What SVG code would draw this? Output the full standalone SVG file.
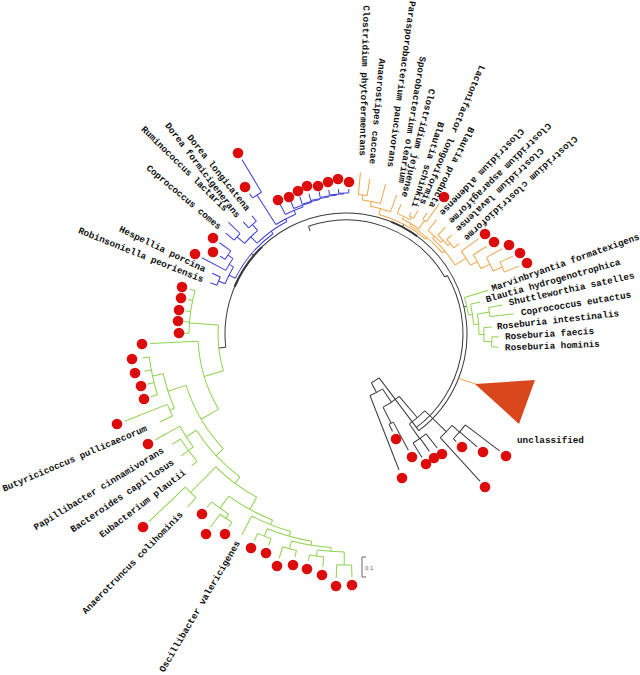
<svg xmlns="http://www.w3.org/2000/svg" width="640" height="675" viewBox="0 0 640 675">
<style>
.t{font-family:"Liberation Mono","Courier New",monospace;font-weight:bold;font-size:9.3px;fill:#111;dominant-baseline:central}
.e{text-anchor:end}
.k line,.k circle{stroke:#3a3a3a;fill:none;stroke-width:1}
.b line,.b circle{stroke:#3d3dd8;fill:none;stroke-width:1}
.o line,.o circle{stroke:#f0a54d;fill:none;stroke-width:1}
.g line,.g circle{stroke:#8fd24f;fill:none;stroke-width:1}
.d circle{fill:#dd0c0c}
</style>
<rect width="640" height="675" fill="#fff"/>
<g id="connectors" transform="translate(346,334)">
<g class="k">
<circle r="121" pathLength="360" stroke-dasharray="239.3 400" transform="rotate(173.7)"/>
<circle r="117" pathLength="360" stroke-dasharray="83 400" transform="rotate(330)"/>
<circle r="114" pathLength="360" stroke-dasharray="79.2 400" transform="rotate(250.8)"/>
<circle r="121" pathLength="360" stroke-dasharray="23 400" transform="rotate(203)" style="stroke-width:2.2"/>
<circle r="121" pathLength="360" stroke-dasharray="14 400" transform="rotate(292)" style="stroke-width:2"/>
<line x1="109" x2="114" transform="rotate(250.8)"/>
<line x1="114" x2="117" transform="rotate(330)"/>
<line x1="55" x2="121" transform="rotate(53)"/>
<line x1="121" x2="128" transform="rotate(173.7)"/>
<line x1="121" x2="124" transform="rotate(220.3)"/>
<line x1="121" x2="124" transform="rotate(297.8)"/>
<line x1="121" x2="124" transform="rotate(347.05)"/>
<circle r="55" pathLength="360" stroke-dasharray="9.5 400" transform="rotate(53)"/>
<line x1="55" x2="66" transform="rotate(62.5)"/>
<circle r="66" pathLength="360" stroke-dasharray="12.35 400" transform="rotate(56.35)"/>
<line x1="66" x2="146" transform="rotate(68.7)"/>
<line x1="66" x2="82" transform="rotate(56.35)"/>
<circle r="82" pathLength="360" stroke-dasharray="13.6 400" transform="rotate(49.55)"/>
<line x1="82" x2="100" transform="rotate(63.15)"/>
<line x1="82" x2="110" transform="rotate(49.55)"/>
<circle r="100" pathLength="360" stroke-dasharray="2.7 400" transform="rotate(61.8)"/>
<line x1="100" x2="108" transform="rotate(64.5)"/>
<line x1="100" x2="132" transform="rotate(61.8)"/>
<circle r="110" pathLength="360" stroke-dasharray="10.6 400" transform="rotate(44.25)"/>
<line x1="110" x2="128" transform="rotate(54.85)"/>
<line x1="110" x2="140" transform="rotate(44.25)"/>
<circle r="128" pathLength="360" stroke-dasharray="7.1 400" transform="rotate(51.3)"/>
<line x1="128" x2="145" transform="rotate(58.4)"/>
<line x1="128" x2="144" transform="rotate(54.6)"/>
<line x1="128" x2="146" transform="rotate(51.3)"/>
<circle r="140" pathLength="360" stroke-dasharray="6.9 400" transform="rotate(40.8)"/>
<line x1="140" x2="199" transform="rotate(47.7)"/>
<line x1="140" x2="150" transform="rotate(40.8)"/>
<circle r="150" pathLength="360" stroke-dasharray="7 400" transform="rotate(37.3)"/>
<line x1="150" x2="154" transform="rotate(44.3)"/>
<line x1="150" x2="173" transform="rotate(40.7)"/>
<line x1="150" x2="193" transform="rotate(37.3)"/>
</g>
<g class="b">
<circle r="138" pathLength="360" stroke-dasharray="3.7 400" transform="rotate(200.7)"/>
<line x1="138" x2="145" transform="rotate(200.7)"/><line x1="138" x2="147" transform="rotate(204.4)"/>
<circle r="142" pathLength="360" stroke-dasharray="4.1 400" transform="rotate(211.7)"/>
<line x1="142" x2="148" transform="rotate(211.7)"/><line x1="142" x2="156" transform="rotate(215.8)"/>
<circle r="136" pathLength="360" stroke-dasharray="5.85 400" transform="rotate(207.9)"/>
<line x1="136" x2="163" transform="rotate(207.9)"/><line x1="136" x2="142" transform="rotate(213.75)"/>
<circle r="131" pathLength="360" stroke-dasharray="8.25 400" transform="rotate(202.55)"/>
<line x1="131" x2="138" transform="rotate(202.55)"/><line x1="131" x2="136" transform="rotate(210.8)"/>
<circle r="146" pathLength="360" stroke-dasharray="3.5 400" transform="rotate(220)"/>
<line x1="146" x2="157" transform="rotate(220)"/><line x1="146" x2="162" transform="rotate(223.5)"/>
<circle r="144" pathLength="360" stroke-dasharray="4 400" transform="rotate(227.5)"/>
<line x1="144" x2="152" transform="rotate(227.5)"/><line x1="144" x2="151" transform="rotate(231.5)"/>
<circle r="136" pathLength="360" stroke-dasharray="7.75 400" transform="rotate(221.75)"/>
<line x1="136" x2="146" transform="rotate(221.75)"/><line x1="136" x2="144" transform="rotate(229.5)"/>
<circle r="165" pathLength="360" stroke-dasharray="3.7 400" transform="rotate(235.5)"/>
<line x1="165" x2="170" transform="rotate(235.5)"/><line x1="165" x2="203" transform="rotate(239.2)"/>
<circle r="141" pathLength="360" stroke-dasharray="4.1 400" transform="rotate(267)"/>
<line x1="141" x2="145" transform="rotate(267)"/><line x1="141" x2="145" transform="rotate(271.1)"/>
<circle r="140" pathLength="360" stroke-dasharray="5.85 400" transform="rotate(263.2)"/>
<line x1="140" x2="145" transform="rotate(263.2)"/><line x1="140" x2="141" transform="rotate(269.05)"/>
<circle r="139" pathLength="360" stroke-dasharray="6.8 400" transform="rotate(259.3)"/>
<line x1="139" x2="145" transform="rotate(259.3)"/><line x1="139" x2="140" transform="rotate(266.1)"/>
<circle r="138" pathLength="360" stroke-dasharray="7.5 400" transform="rotate(255.2)"/>
<line x1="138" x2="145" transform="rotate(255.2)"/><line x1="138" x2="139" transform="rotate(262.7)"/>
<circle r="137" pathLength="360" stroke-dasharray="7.55 400" transform="rotate(251.4)"/>
<line x1="137" x2="145" transform="rotate(251.4)"/><line x1="137" x2="138" transform="rotate(258.95)"/>
<circle r="136" pathLength="360" stroke-dasharray="7.8 400" transform="rotate(247.4)"/>
<line x1="136" x2="145" transform="rotate(247.4)"/><line x1="136" x2="137" transform="rotate(255.2)"/>
<circle r="134" pathLength="360" stroke-dasharray="8.2 400" transform="rotate(243.1)"/>
<line x1="134" x2="145" transform="rotate(243.1)"/><line x1="134" x2="136" transform="rotate(251.3)"/>
<circle r="130" pathLength="360" stroke-dasharray="9.85 400" transform="rotate(237.35)"/>
<line x1="130" x2="165" transform="rotate(237.35)"/><line x1="130" x2="134" transform="rotate(247.2)"/>
<circle r="127" pathLength="360" stroke-dasharray="16.7 400" transform="rotate(225.6)"/>
<line x1="127" x2="136" transform="rotate(225.6)"/><line x1="127" x2="130" transform="rotate(242.3)"/>
<circle r="124" pathLength="360" stroke-dasharray="27.25 400" transform="rotate(206.7)"/>
<line x1="124" x2="131" transform="rotate(206.7)"/><line x1="124" x2="127" transform="rotate(233.95)"/>
</g>
<g class="o">
<line x1="121" x2="129" transform="rotate(21.4)"/>
<circle r="140" pathLength="360" stroke-dasharray="3.6 400" transform="rotate(275.1)"/>
<line x1="140" x2="162" transform="rotate(275.1)"/><line x1="140" x2="157" transform="rotate(278.7)"/>
<circle r="135" pathLength="360" stroke-dasharray="7.9 400" transform="rotate(276.9)"/>
<line x1="135" x2="140" transform="rotate(276.9)"/><line x1="135" x2="155" transform="rotate(284.8)"/>
<circle r="130" pathLength="360" stroke-dasharray="9.15 400" transform="rotate(280.85)"/>
<line x1="130" x2="135" transform="rotate(280.85)"/><line x1="130" x2="148" transform="rotate(290)"/>
<circle r="134" pathLength="360" stroke-dasharray="2.1 400" transform="rotate(298.2)"/>
<line x1="134" x2="138" transform="rotate(298.2)"/><line x1="134" x2="143" transform="rotate(300.3)"/>
<circle r="131" pathLength="360" stroke-dasharray="6.25 400" transform="rotate(293)"/>
<line x1="131" x2="141" transform="rotate(293)"/><line x1="131" x2="134" transform="rotate(299.25)"/>
<circle r="138" pathLength="360" stroke-dasharray="1.8 400" transform="rotate(303.8)"/>
<line x1="138" x2="146" transform="rotate(303.8)"/><line x1="138" x2="160" transform="rotate(305.6)"/>
<circle r="128" pathLength="360" stroke-dasharray="8.6 400" transform="rotate(296.1)"/>
<line x1="128" x2="131" transform="rotate(296.1)"/><line x1="128" x2="138" transform="rotate(304.7)"/>
<circle r="138" pathLength="360" stroke-dasharray="4.5 400" transform="rotate(316.9)"/>
<line x1="138" x2="145" transform="rotate(316.9)"/><line x1="138" x2="145" transform="rotate(321.4)"/>
<circle r="135" pathLength="360" stroke-dasharray="6.25 400" transform="rotate(312.9)"/>
<line x1="135" x2="146" transform="rotate(312.9)"/><line x1="135" x2="138" transform="rotate(319.15)"/>
<circle r="132" pathLength="360" stroke-dasharray="7.6 400" transform="rotate(308.4)"/>
<line x1="132" x2="146" transform="rotate(308.4)"/><line x1="132" x2="135" transform="rotate(316)"/>
<circle r="170" pathLength="360" stroke-dasharray="3.6 400" transform="rotate(335)"/>
<line x1="170" x2="184" transform="rotate(335)"/><line x1="170" x2="186" transform="rotate(338.6)"/>
<circle r="160" pathLength="360" stroke-dasharray="5.4 400" transform="rotate(331.4)"/>
<line x1="160" x2="178" transform="rotate(331.4)"/><line x1="160" x2="170" transform="rotate(336.8)"/>
<circle r="150" pathLength="360" stroke-dasharray="6 400" transform="rotate(328.1)"/>
<line x1="150" x2="166" transform="rotate(328.1)"/><line x1="150" x2="160" transform="rotate(334.1)"/>
<circle r="142" pathLength="360" stroke-dasharray="6.8 400" transform="rotate(324.3)"/>
<line x1="142" x2="163" transform="rotate(324.3)"/><line x1="142" x2="150" transform="rotate(331.1)"/>
<circle r="129" pathLength="360" stroke-dasharray="15.5 400" transform="rotate(312.2)"/>
<line x1="129" x2="132" transform="rotate(312.2)"/><line x1="129" x2="142" transform="rotate(327.7)"/>
<circle r="126" pathLength="360" stroke-dasharray="19.55 400" transform="rotate(300.4)"/>
<line x1="126" x2="128" transform="rotate(300.4)"/><line x1="126" x2="129" transform="rotate(319.95)"/>
<circle r="124" pathLength="360" stroke-dasharray="24.8 400" transform="rotate(285.4)"/>
<line x1="124" x2="130" transform="rotate(285.4)"/><line x1="124" x2="126" transform="rotate(310.2)"/>
</g>
<g class="g">
<circle r="146" pathLength="360" stroke-dasharray="3.9 400" transform="rotate(361.1)"/>
<line x1="146" x2="153" transform="rotate(361.1)"/><line x1="146" x2="153" transform="rotate(365)"/>
<circle r="138" pathLength="360" stroke-dasharray="5.75 400" transform="rotate(357.3)"/>
<line x1="138" x2="146" transform="rotate(357.3)"/><line x1="138" x2="146" transform="rotate(363.05)"/>
<circle r="145" pathLength="360" stroke-dasharray="3.6 400" transform="rotate(349.5)"/>
<line x1="145" x2="159" transform="rotate(349.5)"/><line x1="145" x2="169" transform="rotate(353.1)"/>
<circle r="133" pathLength="360" stroke-dasharray="8.9 400" transform="rotate(351.3)"/>
<line x1="133" x2="145" transform="rotate(351.3)"/><line x1="133" x2="138" transform="rotate(360.2)"/>
<circle r="128" pathLength="360" stroke-dasharray="9.15 400" transform="rotate(346.6)"/>
<line x1="128" x2="138" transform="rotate(346.6)"/><line x1="128" x2="133" transform="rotate(355.75)"/>
<circle r="124" pathLength="360" stroke-dasharray="8.3 400" transform="rotate(342.9)"/>
<line x1="124" x2="149" transform="rotate(342.9)"/><line x1="124" x2="128" transform="rotate(351.2)"/>
<circle r="157" pathLength="360" stroke-dasharray="15.7 400" transform="rotate(180.3)"/>
<line x1="157" x2="162" transform="rotate(180.3)"/><line x1="157" x2="162" transform="rotate(184.4)"/><line x1="157" x2="162" transform="rotate(188.2)"/><line x1="157" x2="162" transform="rotate(192.3)"/><line x1="157" x2="162" transform="rotate(196)"/>
<line x1="128" x2="157" transform="rotate(184)"/>
<circle r="148" pathLength="360" stroke-dasharray="27.7 400" transform="rotate(149.5)"/>
<line x1="148" x2="196" transform="rotate(177.2)"/><line x1="148" x2="168" transform="rotate(149.5)"/>
<circle r="128" pathLength="360" stroke-dasharray="20.65 400" transform="rotate(163.35)"/>
<line x1="128" x2="148" transform="rotate(163.35)"/>
<circle r="168" pathLength="360" stroke-dasharray="25.3 400" transform="rotate(136.9)"/>
<line x1="168" x2="187" transform="rotate(162.2)"/><line x1="168" x2="178" transform="rotate(136.9)"/>
<circle r="187" pathLength="360" stroke-dasharray="11.15 400" transform="rotate(156.6)"/>
<line x1="187" x2="198" transform="rotate(167.75)"/><line x1="187" x2="192" transform="rotate(156.6)"/>
<circle r="198" pathLength="360" stroke-dasharray="11.1 400" transform="rotate(162.2)"/>
<line x1="198" x2="205" transform="rotate(162.2)"/><line x1="198" x2="205" transform="rotate(165.8)"/><line x1="198" x2="205" transform="rotate(169.5)"/><line x1="198" x2="205" transform="rotate(173.3)"/>
<circle r="192" pathLength="360" stroke-dasharray="3.8 400" transform="rotate(154.7)"/>
<line x1="192" x2="238" transform="rotate(158.5)"/><line x1="192" x2="206" transform="rotate(154.7)"/>
<circle r="178" pathLength="360" stroke-dasharray="20.65 400" transform="rotate(126.6)"/>
<line x1="178" x2="190" transform="rotate(147.25)"/><line x1="178" x2="186" transform="rotate(126.6)"/>
<circle r="190" pathLength="360" stroke-dasharray="7.5 400" transform="rotate(143.5)"/>
<line x1="190" x2="218" transform="rotate(151)"/><line x1="190" x2="196" transform="rotate(143.5)"/>
<circle r="196" pathLength="360" stroke-dasharray="8.1 400" transform="rotate(139.5)"/>
<line x1="196" x2="206" transform="rotate(147.6)"/><line x1="196" x2="205" transform="rotate(143.5)"/><line x1="196" x2="203" transform="rotate(139.5)"/>
<circle r="186" pathLength="360" stroke-dasharray="15.75 400" transform="rotate(118.7)"/>
<line x1="186" x2="222" transform="rotate(134.45)"/><line x1="186" x2="200" transform="rotate(118.7)"/>
<circle r="222" pathLength="360" stroke-dasharray="3.9 400" transform="rotate(132.5)"/>
<line x1="222" x2="272" transform="rotate(136.4)"/><line x1="222" x2="235" transform="rotate(132.5)"/>
<circle r="200" pathLength="360" stroke-dasharray="14.35 400" transform="rotate(111.55)"/>
<line x1="200" x2="215" transform="rotate(125.9)"/><line x1="200" x2="205" transform="rotate(111.55)"/>
<circle r="215" pathLength="360" stroke-dasharray="5.6 400" transform="rotate(123.1)"/>
<line x1="215" x2="222" transform="rotate(128.7)"/><line x1="215" x2="220" transform="rotate(123.1)"/>
<circle r="220" pathLength="360" stroke-dasharray="3.8 400" transform="rotate(121.2)"/>
<line x1="220" x2="236" transform="rotate(125)"/><line x1="220" x2="226" transform="rotate(121.2)"/>
<circle r="205" pathLength="360" stroke-dasharray="11.7 400" transform="rotate(105.7)"/>
<line x1="205" x2="226" transform="rotate(117.4)"/><line x1="205" x2="210" transform="rotate(105.7)"/>
<circle r="210" pathLength="360" stroke-dasharray="12.6 400" transform="rotate(99.4)"/>
<line x1="210" x2="218" transform="rotate(112)"/><line x1="210" x2="214" transform="rotate(99.4)"/>
<circle r="218" pathLength="360" stroke-dasharray="3.8 400" transform="rotate(110.1)"/>
<line x1="218" x2="226" transform="rotate(113.9)"/><line x1="218" x2="225" transform="rotate(110.1)"/>
<circle r="214" pathLength="360" stroke-dasharray="10.75 400" transform="rotate(94)"/>
<line x1="214" x2="222" transform="rotate(104.75)"/><line x1="214" x2="218" transform="rotate(94)"/>
<circle r="222" pathLength="360" stroke-dasharray="3.7 400" transform="rotate(102.9)"/>
<line x1="222" x2="234" transform="rotate(106.6)"/><line x1="222" x2="229" transform="rotate(102.9)"/>
<circle r="218" pathLength="360" stroke-dasharray="7.1 400" transform="rotate(90.45)"/>
<line x1="218" x2="224" transform="rotate(97.55)"/><line x1="218" x2="231" transform="rotate(90.45)"/>
<circle r="224" pathLength="360" stroke-dasharray="3.7 400" transform="rotate(95.7)"/>
<line x1="224" x2="230" transform="rotate(99.4)"/><line x1="224" x2="234" transform="rotate(95.7)"/>
<circle r="231" pathLength="360" stroke-dasharray="3.7 400" transform="rotate(88.6)"/>
<line x1="231" x2="244" transform="rotate(92.3)"/><line x1="231" x2="243" transform="rotate(88.6)"/>
</g>
</g>
<g id="unclassified-clade">
<line x1="466" y1="381" x2="476" y2="384" stroke="#f0a54d"/>
<polygon points="475,384 535,380 519,424" fill="#d9481c"/>
</g>
<g id="samples" class="d">
<circle cx="238" cy="153" r="5.3"/><circle cx="245" cy="187" r="5.3"/><circle cx="278" cy="200" r="5.3"/><circle cx="289" cy="197" r="5.3"/><circle cx="298" cy="191" r="5.3"/><circle cx="307" cy="186" r="5.3"/><circle cx="318" cy="186" r="5.3"/><circle cx="328" cy="182" r="5.3"/><circle cx="338" cy="179" r="5.3"/><circle cx="349" cy="182" r="5.3"/><circle cx="213" cy="238" r="5.3"/><circle cx="213" cy="252" r="5.3"/><circle cx="195" cy="254" r="5.3"/>
<circle cx="444" cy="197" r="5.3"/><circle cx="485" cy="234" r="5.3"/><circle cx="494" cy="242" r="5.3"/><circle cx="509" cy="245" r="5.3"/><circle cx="520" cy="253" r="5.3"/><circle cx="527" cy="263" r="5.3"/>
<circle cx="182" cy="287" r="5.3"/><circle cx="181" cy="298" r="5.3"/><circle cx="179" cy="310" r="5.3"/><circle cx="178" cy="321" r="5.3"/><circle cx="179" cy="333" r="5.3"/><circle cx="142" cy="344" r="5.3"/><circle cx="132" cy="359" r="5.3"/><circle cx="135" cy="373" r="5.3"/><circle cx="141" cy="386" r="5.3"/><circle cx="144" cy="399" r="5.3"/><circle cx="117" cy="424" r="5.3"/><circle cx="148" cy="444" r="5.3"/><circle cx="143" cy="527" r="5.3"/><circle cx="202" cy="514" r="5.3"/><circle cx="206" cy="534" r="5.3"/><circle cx="225" cy="534" r="5.3"/><circle cx="251" cy="548" r="5.3"/><circle cx="266" cy="553" r="5.3"/><circle cx="277" cy="566" r="5.3"/><circle cx="293" cy="565" r="5.3"/><circle cx="307" cy="569" r="5.3"/><circle cx="322" cy="575" r="5.3"/><circle cx="336" cy="586" r="5.3"/><circle cx="352" cy="585" r="5.3"/>
<circle cx="396" cy="439" r="5.3"/><circle cx="412" cy="457" r="5.3"/><circle cx="426" cy="464" r="5.3"/><circle cx="434" cy="458" r="5.3"/><circle cx="442" cy="454" r="5.3"/><circle cx="462" cy="447" r="5.3"/><circle cx="483" cy="452" r="5.3"/><circle cx="506" cy="456" r="5.3"/><circle cx="402" cy="478" r="5.3"/><circle cx="485" cy="487" r="5.3"/>
</g>
<g id="labels">
<g id="n-cphy"><text class="t e" transform="translate(362,156) rotate(91.5)">Clostridium phytofermentans</text></g>
<g id="n-acac"><text class="t e" transform="translate(372,164) rotate(95.3)">Anaerostipes caccae</text></g>
<g id="n-ppau"><text class="t e" transform="translate(390,167) rotate(97.6)">Parasporobacterium paucivorans</text></g>
<g id="n-sole"><text class="t e" transform="translate(401,183) rotate(99.6)">Sporobacterium olearium</text></g>
<g id="n-cjej"><text class="t e" transform="translate(404,197) rotate(104.4)">Clostridium jejuense</text></g>
<g id="n-bsch"><text class="t e" transform="translate(414,207) rotate(107.6)">Blautia schinkii</text></g>
<g id="n-llon"><text class="t e" transform="translate(422,204) rotate(113.5)">Lactonifactor longoviformis</text></g>
<g id="n-bpro"><text class="t e" transform="translate(431,207) rotate(117)">Blautia producta</text></g>
<g id="n-cald"><text class="t e" transform="translate(441,214) rotate(134)">Clostridium aldenense</text></g>
<g id="n-casp"><text class="t e" transform="translate(450,222) rotate(135.5)">Clostridium asparagiforme</text></g>
<g id="n-clav"><text class="t e" transform="translate(457,230) rotate(136.5)">Clostridium lavalense</text></g>
<g id="n-cclo"><text class="t e" transform="translate(465,239) rotate(137.5)">Clostridium clostridioforme</text></g>
<g id="n-mfor"><text class="t" transform="translate(492,289) rotate(-19.5)">Marvinbryantia formatexigens</text></g>
<g id="n-bhyd"><text class="t" transform="translate(486,300) rotate(-15.8)">Blautia hydrogenotrophica</text></g>
<g id="n-ssat"><text class="t" transform="translate(509,303) rotate(-12.3)">Shuttleworthia satelles</text></g>
<g id="n-ceut"><text class="t" transform="translate(521,313) rotate(-9.3)">Coprococcus eutactus</text></g>
<g id="n-rint"><text class="t" transform="translate(497,327) rotate(-6.2)">Roseburia intestinalis</text></g>
<g id="n-rfae"><text class="t" transform="translate(505,337) rotate(-3.6)">Roseburia faecis</text></g>
<g id="n-rhom"><text class="t" transform="translate(505,348) rotate(-2.2)">Roseburia hominis</text></g>
<g id="n-dlon"><text class="t e" transform="translate(248,210) rotate(51.3)">Dorea longicatena</text></g>
<g id="n-dfor"><text class="t e" transform="translate(238,217) rotate(52.5)">Dorea formicigenerans</text></g>
<g id="n-rlac"><text class="t e" transform="translate(226,210) rotate(44.5)">Ruminococcus lactaris</text></g>
<g id="n-ccom"><text class="t e" transform="translate(220,228) rotate(40)">Coprococcus comes</text></g>
<g id="n-hpor"><text class="t e" transform="translate(205,270) rotate(25.7)">Hespellia porcina</text></g>
<g id="n-rpeo"><text class="t e" transform="translate(203,280) rotate(21.7)">Robinsoniella peoriensis</text></g>
<g id="n-bpul"><text class="t e" transform="translate(146.7,428.3) rotate(-23)">Butyricicoccus pullicaecorum</text></g>
<g id="n-pcin"><text class="t e" transform="translate(163.3,450) rotate(-31.3)">Papillibacter cinnamivorans</text></g>
<g id="n-bcap"><text class="t e" transform="translate(173.3,461.7) rotate(-34.1)">Bacteroides capillosus</text></g>
<g id="n-epla"><text class="t e" transform="translate(185,471.7) rotate(-37.4)">Eubacterium plautii</text></g>
<g id="n-acol"><text class="t e" transform="translate(181.7,513.3) rotate(-45.5)">Anaerotruncus colihominis</text></g>
<g id="n-oval"><text class="t e" transform="translate(238.3,541.7) rotate(-59.5)">Oscillibacter valericigenes</text></g>
<g id="n-uncl"><text class="t" x="517" y="440">unclassified</text></g>
</g>
<g id="scale">
<path d="M366,557 H362 V577 H366" fill="none" stroke="#666" stroke-width="1"/>
<text x="365" y="570" style="font-family:'Liberation Sans',Arial,sans-serif;font-size:6px;fill:#666">0.1</text>
</g>
</svg>
